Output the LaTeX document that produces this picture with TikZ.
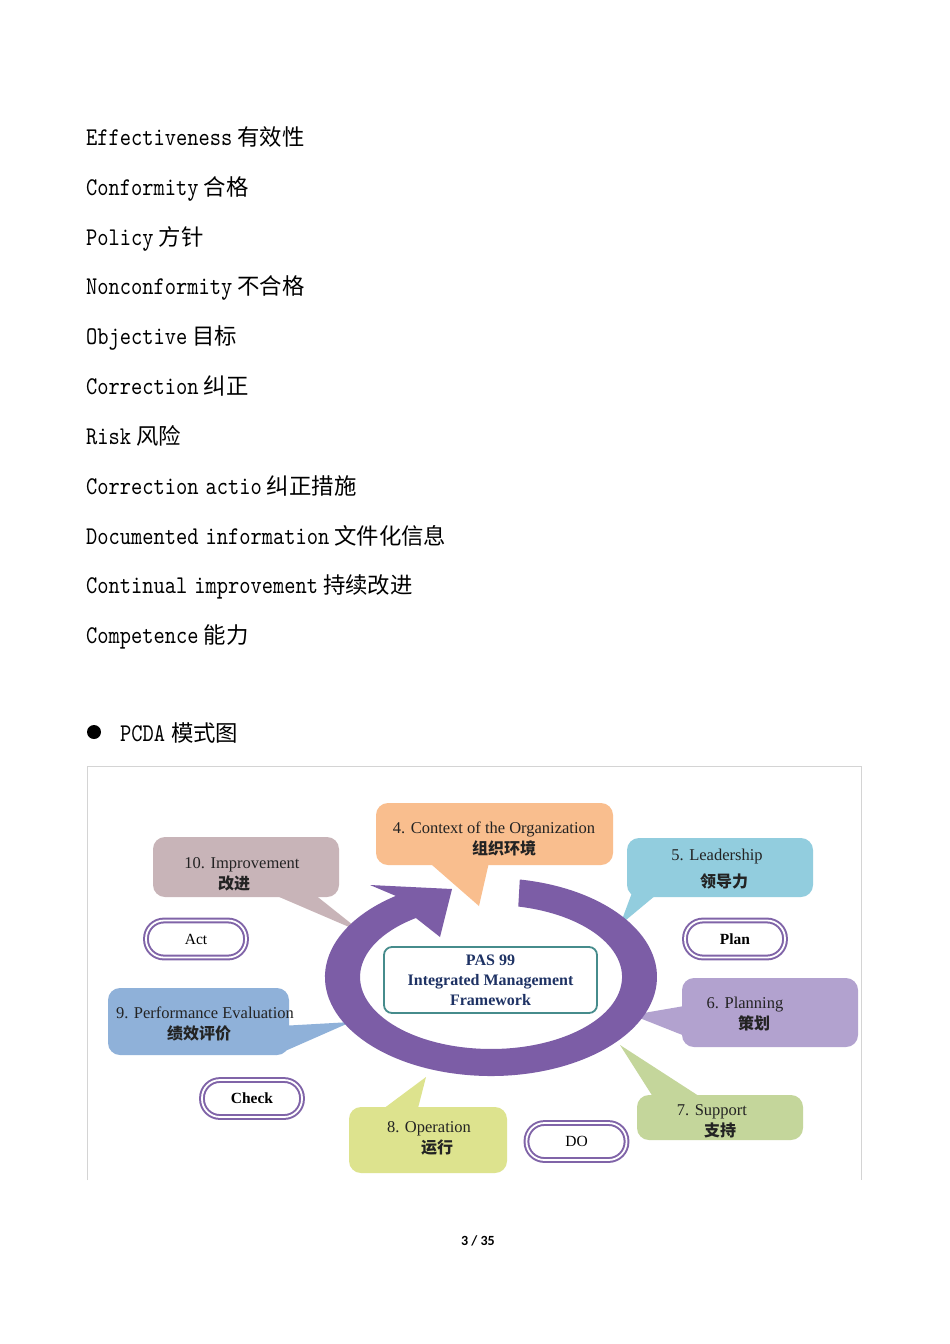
\documentclass[tikz,border=0pt]{standalone}
\usepackage{fontspec}
\setmainfont{Liberation Serif}
\newfontfamily\cjk{Noto Sans CJK SC}
\newfontfamily\pagefont{Carlito}
\newfontfamily\listfont{lmmono10-regular.otf}[FakeStretch=0.84]
\newcommand\zh[1]{{\fontsize{22.4}{24}\selectfont\cjk #1}}
\definecolor{ringpurple}{RGB}{124,93,166}
\definecolor{pillpurple}{RGB}{128,100,168}
\definecolor{tealB}{RGB}{70,140,140}
\definecolor{navyT}{RGB}{30,50,100}
\definecolor{orangeB}{RGB}{249,190,142}
\definecolor{cyanB}{RGB}{146,205,222}
\definecolor{mauveB}{RGB}{200,180,184}
\definecolor{blueB}{RGB}{143,177,217}
\definecolor{lavB}{RGB}{178,162,207}
\definecolor{greenB}{RGB}{196,214,155}
\definecolor{yellowB}{RGB}{221,227,142}
\definecolor{frameG}{RGB}{212,212,212}
\definecolor{textD}{RGB}{35,35,35}
\begin{document}
\begin{tikzpicture}[x=1pt,y=1pt,
  listline/.style={anchor=base west, inner sep=0pt, font=\fontsize{25.5}{28}\selectfont\listfont},
  bub/.style={rounded corners=12pt, inner sep=0pt},
  btext/.style={anchor=base, inner sep=0pt, text=textD, font=\fontsize{16.5}{18}\selectfont},
  ztext/.style={anchor=base, inner sep=0pt, text=textD, font=\fontsize{16}{18}\selectfont\cjk\bfseries},
  pill/.style={rounded corners=18pt, draw=pillpurple, double=white, double distance=1.8pt, line width=2pt, fill=white, minimum width=100pt, minimum height=37pt, inner sep=0pt, text=black, font=\fontsize{15.5}{17}\selectfont}
]
\useasboundingbox (0,0) rectangle (950,-1344);
\fill[white] (0,0) rectangle (950,-1344);

% glossary list
\node[listline] (l1) at (86,-145) {Effectiveness\hspace{5pt}\zh{有效性}};
\node[listline] (l2) at (86,-195) {Conformity\hspace{5pt}\zh{合格}};
\node[listline] (l3) at (86,-245) {Policy\hspace{5pt}\zh{方针}};
\node[listline] (l4) at (86,-294) {Nonconformity\hspace{5pt}\zh{不合格}};
\node[listline] (l5) at (86,-344) {Objective\hspace{5pt}\zh{目标}};
\node[listline] (l6) at (86,-394) {Correction\hspace{5pt}\zh{纠正}};
\node[listline] (l7) at (86,-444) {Risk\hspace{5pt}\zh{风险}};
\node[listline] (l8) at (86,-494) {Correction\hspace{7pt}actio\hspace{5pt}\zh{纠正措施}};
\node[listline] (l9) at (86,-544) {Documented\hspace{7pt}information\hspace{5pt}\zh{文件化信息}};
\node[listline] (l10) at (86,-593) {Continual\hspace{7pt}improvement\hspace{5pt}\zh{持续改进}};
\node[listline] (l11) at (86,-643) {Competence\hspace{5pt}\zh{能力}};

% bullet heading
\node[circle, fill=black, minimum size=14pt, inner sep=0pt] (bul) at (94,-732) {};
\node[listline] (pcda) at (120,-741) {PCDA\hspace{6pt}\zh{模式图}};

% frame of the figure
\draw[frameG, line width=0.9pt] (87,-1180) -- (87,-766) -- (861,-766) -- (861,-1180);

% speech bubbles
\node[bub, fill=orangeB, minimum width=237pt, minimum height=62pt] (ctx) at (494.5,-834) {};
\coordinate (ctxtip) at (479,-906);
\fill[orangeB] (424,-858) -- (ctxtip) -- (490,-858) -- cycle;

\node[bub, fill=cyanB, minimum width=186pt, minimum height=59pt] (lead) at (720,-867.5) {};
\coordinate (leadtip) at (620,-925);
\fill[cyanB] (633,-890) -- (leadtip) -- (662,-890) -- cycle;

\node[bub, fill=mauveB, minimum width=186pt, minimum height=60pt] (imp) at (246,-867) {};
\coordinate (imptip) at (363,-933);
\fill[mauveB] (263,-890) -- (imptip) -- (309,-890) -- cycle;

\node[bub, fill=blueB, minimum width=181pt, minimum height=67pt] (perf) at (198.5,-1021.5) {};
\coordinate (perftip) at (351,-1022);
\fill[blueB] (280,-1026) -- (perftip) -- (276,-1055) -- cycle;

\node[bub, fill=lavB, minimum width=176pt, minimum height=69pt] (pln) at (770,-1012.5) {};
\coordinate (plntip) at (632,-1015);
\fill[lavB] (690,-1005) -- (plntip) -- (690,-1038) -- cycle;

\node[bub, fill=greenB, minimum width=166pt, minimum height=45pt] (sup) at (720,-1117.5) {};
\coordinate (suptip) at (620,-1045);
\fill[greenB] (655,-1100) -- (suptip) -- (705,-1100) -- cycle;

\node[bub, fill=yellowB, minimum width=158pt, minimum height=66pt] (op) at (428,-1140) {};
\coordinate (optip) at (426,-1077);
\fill[yellowB] (379,-1112) -- (optip) -- (417,-1112) -- cycle;

% circular arrow
\fill[ringpurple] (519.8,-879.5)
  arc[start angle=80, end angle=-235, x radius=166, y radius=99]
  -- (370,-885) -- (452,-889) -- (440,-937) -- (415.9,-918.0)
  arc[start angle=125, end angle=438, x radius=131, y radius=72] -- cycle;

% central box
\node[draw=tealB, line width=1.8pt, rounded corners=8pt, fill=white,
  minimum width=213pt, minimum height=66pt, inner sep=0pt, align=center,
  text=navyT, font=\fontsize{16}{20}\selectfont\bfseries] (pas) at (490.5,-980)
  {PAS 99\\Integrated Management\\Framework};

% bubble texts
\node[btext] (impE) at (242,-868) {10. Improvement};
\node[ztext] (impZ) at (234,-889) {改进};
\node[btext] (ctxE) at (494,-833) {4. Context of the Organization};
\node[ztext] (ctxZ) at (504,-854) {组织环境};
\node[btext] (leadE) at (717,-860) {5. Leadership};
\node[ztext] (leadZ) at (724,-887) {领导力};
\node[btext] (perfE) at (205,-1018) {9. Performance Evaluation};
\node[ztext] (perfZ) at (199,-1039) {绩效评价};
\node[btext] (plnE) at (745,-1008) {6. Planning};
\node[ztext] (plnZ) at (754,-1029) {策划};
\node[btext] (supE) at (712,-1115) {7. Support};
\node[ztext] (supZ) at (720,-1136) {支持};
\node[btext] (opE) at (429,-1132) {8. Operation};
\node[ztext] (opZ) at (437,-1153) {运行};

% PDCA pills
\node[pill] (act) at (196,-939) {Act};
\node[pill, font=\fontsize{15.5}{17}\selectfont\bfseries] (plan) at (735,-939) {Plan};
\node[pill, font=\fontsize{15.5}{17}\selectfont\bfseries] (check) at (252,-1098.5) {Check};
\node[pill] (do) at (576.5,-1141.5) {DO};

% page number
\node[inner sep=0pt, font=\fontsize{14}{16}\selectfont\pagefont\bfseries] (pg) at (478,-1241) {3 / 35};
\end{tikzpicture}
\end{document}
